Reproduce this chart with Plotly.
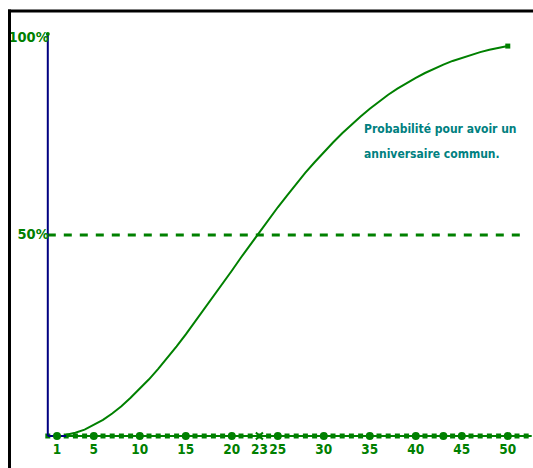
import plotly.graph_objects as go

# Group sizes and probability (%) of a shared birthday
group_size = list(range(1, 51))
probability = [0.0, 0.3, 0.8, 1.6, 2.7, 4.0, 5.6, 7.4, 9.5, 11.7,
               14.1, 16.7, 19.4, 22.3, 25.3, 28.4, 31.5, 34.7, 37.9, 41.1,
               44.4, 47.6, 50.7, 53.8, 56.9, 59.8, 62.7, 65.5, 68.1, 70.6,
               73.0, 75.3, 77.5, 79.5, 81.4, 83.2, 84.9, 86.4, 87.8, 89.1,
               90.3, 91.4, 92.4, 93.3, 94.1, 94.8, 95.5, 96.1, 96.6, 97.0]

tick_values = [1, 5, 10, 15, 20, 23, 25, 30, 35, 40, 45, 50]
tick_labels = ["1", "5", "10", "15", "20", "23", "25", "30", "35", "40", "45", "50"]
big_dot_values = [1, 5, 10, 15, 20, 25, 30, 35, 40, 43, 45, 50]
small_dot_values = list(range(0, 53))
marked_value = [23]

y_tick_values = [100, 50]
y_tick_labels = ["100%", "50%"]

caption_lines = ["Probabilité pour avoir un", "anniversaire commun."]

GREEN = "#008000"
NAVY = "#000080"
TEAL = "#008080"
FONT = "DejaVu Sans Condensed, sans-serif"

W, H = 533, 468

fig = go.Figure()

# 50% dashed reference line
fig.add_trace(go.Scatter(x=[0, 52], y=[50, 50], mode="lines",
                         line=dict(color=GREEN, width=3, dash="8px,8px"),
                         hoverinfo="skip"))

# bottom dotted axis line
fig.add_trace(go.Scatter(x=[0, 52.6], y=[0, 0], mode="lines",
                         line=dict(color=GREEN, width=2), hoverinfo="skip"))
fig.add_trace(go.Scatter(x=small_dot_values, y=[0] * len(small_dot_values),
                         mode="markers",
                         marker=dict(color=GREEN, size=5, symbol="square"),
                         hoverinfo="skip"))

# blue vertical axis and short base segment
fig.add_trace(go.Scatter(x=[0, 0], y=[0, 100], mode="lines",
                         line=dict(color=NAVY, width=2), hoverinfo="skip"))
fig.add_trace(go.Scatter(x=[0, 2], y=[0, 0], mode="lines",
                         line=dict(color=NAVY, width=2), hoverinfo="skip"))

fig.add_trace(go.Scatter(x=big_dot_values, y=[0] * len(big_dot_values),
                         mode="markers",
                         marker=dict(color=GREEN, size=8, symbol="circle"),
                         hoverinfo="skip"))
fig.add_trace(go.Scatter(x=marked_value, y=[0], mode="markers",
                         marker=dict(color=GREEN, size=7, symbol="x-thin",
                                     line=dict(color=GREEN, width=2)),
                         hoverinfo="skip"))

# probability curve
fig.add_trace(go.Scatter(x=group_size[1:], y=probability[1:], mode="lines",
                         line=dict(color=GREEN, width=2), hoverinfo="skip"))
fig.add_trace(go.Scatter(x=[group_size[-1]], y=[probability[-1]], mode="markers",
                         marker=dict(color=GREEN, size=5, symbol="square"),
                         hoverinfo="skip"))
# small marker at top of the vertical axis
fig.add_trace(go.Scatter(x=[0], y=[100], mode="markers",
                         marker=dict(color=GREEN, size=4, symbol="circle"),
                         hoverinfo="skip"))

# x tick labels
fig.add_trace(go.Scatter(x=tick_values, y=[-3.6] * len(tick_values), mode="text",
                         text=tick_labels, textposition="middle center",
                         textfont=dict(color=GREEN, size=13.5, family=FONT, weight="bold"),
                         hoverinfo="skip"))
# y labels
fig.add_trace(go.Scatter(x=[0.1] * len(y_tick_values), y=[98.8, 50],
                         mode="text", text=y_tick_labels, textposition="middle left",
                         textfont=dict(color=GREEN, size=14.5, family=FONT, weight="bold"),
                         hoverinfo="skip"))

# caption, one annotation per line
for i, line in enumerate(caption_lines):
    fig.add_annotation(x=34.1, y=76.3 - 6.2 * i, text=line, showarrow=False,
                       xanchor="left", yanchor="middle", align="left",
                       font=dict(color=TEAL, size=12, family=FONT, weight="bold"))

# frame (top and left edges)
fig.add_shape(type="line", xref="paper", yref="paper",
              x0=8 / W, x1=1, y0=1 - 11 / H, y1=1 - 11 / H,
              line=dict(color="black", width=3))
fig.add_shape(type="line", xref="paper", yref="paper",
              x0=9.5 / W, x1=9.5 / W, y0=0, y1=1 - 9.5 / H,
              line=dict(color="black", width=3))

fig.update_layout(
    width=W, height=H,
    margin=dict(l=0, r=0, t=0, b=0),
    paper_bgcolor="white", plot_bgcolor="white",
    showlegend=False,
    xaxis=dict(range=[-5.196, 52.74], visible=False, fixedrange=True),
    yaxis=dict(range=[-7.96, 108.46], visible=False, fixedrange=True),
)

fig.write_html(
    "out.html",
    config={"displayModeBar": False},
    post_script="document.body.style.margin='0';document.body.style.overflow='hidden';",
)
